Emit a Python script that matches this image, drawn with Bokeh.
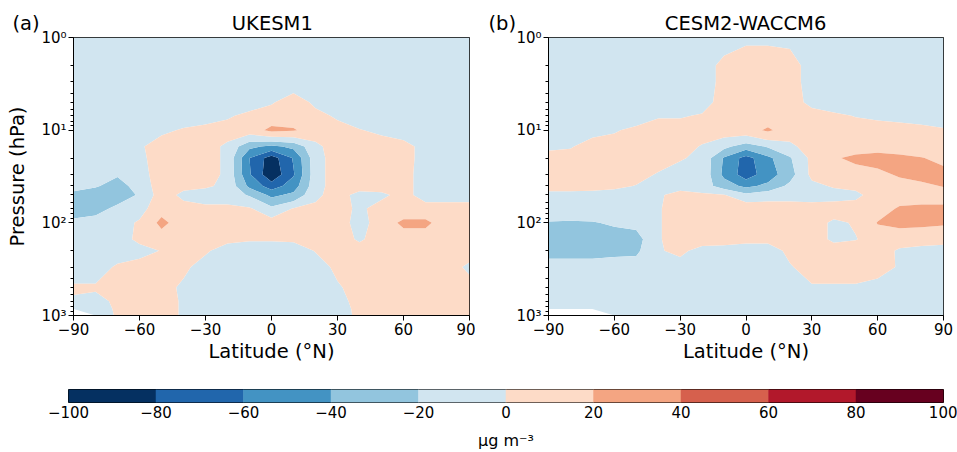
import numpy as np
from bokeh.plotting import figure
from bokeh.models import Range1d, FixedTicker, Title
from bokeh.layouts import column, row
from bokeh.embed import file_html
from bokeh.resources import INLINE

nan = float("nan")

# latitude grid (deg N) and pressure levels (hPa)
lats = [-90, -80, -70, -60, -50, -40, -30, -20, -10, 0, 10, 20, 30, 40, 50, 60, 70, 80, 90]
pressures = [1, 2, 3, 5, 7, 10, 15, 20, 30, 40, 50, 70, 100, 150, 200, 300, 500, 700, 850, 1000]

levels = [-100, -80, -60, -40, -20, 0, 20, 40, 60, 80, 100]
colors = ["#053061", "#2166ac", "#4393c3", "#92c5de", "#d1e5f0",
          "#fddbc7", "#f4a582", "#d6604d", "#b2182b", "#67001f"]

lat_ticks = [-90, -60, -30, 0, 30, 60, 90]
p_ticks = [1, 10, 100, 1000]
p_tick_labels = ["10⁰", "10¹", "10²", "10³"]

# UKESM1 difference field (ug m-3), rows = pressure levels, cols = latitudes
ukesm1 = [
    [-10, -10, -10, -10, -10, -10, -10, -10, -10, -10, -10, -10, -10, -10, -10, -10, -10, -10, -10],
    [-10, -10, -10, -10, -10, -10, -10, -10, -10, -10, -10, -10, -10, -10, -10, -10, -10, -10, -10],
    [-10, -10, -10, -10, -10, -10, -10, -10, -10, -10, -10, -10, -10, -10, -10, -10, -10, -10, -10],
    [-10, -10, -10, -10, -10, -10, -10, -10, -10, -2, 10, -4, -10, -10, -10, -10, -10, -10, -10],
    [-10, -10, -10, -10, -10, -10, -10, -3, 6, 10, 10, 6, -3, -10, -10, -10, -10, -10, -10],
    [-10, -10, -10, -10, -4, 2, 8, 10, 10, 25, 22, 10, 8, 1, -4, -8, -10, -10, -10],
    [-10, -10, -10, -3, 10, 10, 10, -5, -35, -45, -35, -5, 10, 10, 10, 6, -6, -10, -10],
    [-10, -10, -10, -5, 10, 10, 10, -5, -60, -90, -58, -8, 10, 10, 10, 8, -8, -10, -10],
    [-10, -10, -18, -8, 10, 10, 10, -5, -58, -95, -62, -8, 10, 10, 10, 8, -10, -10, -10],
    [-10, -18, -28, -12, 10, 5, 3, -5, -45, -70, -50, -8, 10, 10, 10, 8, -10, -10, -10],
    [-28, -30, -30, -18, 10, -5, -10, -10, -22, -45, -35, -5, 10, -8, -5, 8, -10, -10, -10],
    [-30, -28, -15, -8, 14, 8, 5, 5, 2, -15, 1, 5, 10, -5, 10, 10, 10, 10, 10],
    [-15, -10, -10, 3, 25, 10, 10, 10, 10, 10, 10, 10, 10, -8, 10, 24, 24, 10, 10],
    [-10, -10, -10, 5, 10, 10, 10, 5, 2, 2, 3, 10, 10, -3, 10, 10, 10, 10, 10],
    [-10, -10, -10, -8, 1, 10, 3, -10, -10, -10, -10, 1, 10, 10, 10, 10, 10, 10, 10],
    [-10, -10, 3, 10, 10, 5, -10, -10, -10, -10, -10, -10, 5, 10, 10, 10, 10, 10, -5],
    [3, 3, 10, 10, 10, -5, -10, -10, -10, -10, -10, -10, -3, 10, 10, 10, 10, 10, 10],
    [-3, -8, 5, 10, 10, -3, -10, -10, -10, -10, -10, -10, -10, 10, 10, 10, 10, 10, 10],
    [-10, -10, 3, 10, 10, -3, -10, -10, -10, -10, -10, -10, -10, 6, 10, 10, 10, 10, 10],
    [nan, -10, 2, 10, 10, -3, -10, -10, -10, -10, -10, -10, -10, 5, 10, 10, 10, 10, 10],
]

# CESM2-WACCM6 difference field (ug m-3)
cesm2_waccm6 = [
    [-10, -10, -10, -10, -10, -10, -10, -10, -8, -3, -3, -5, -10, -10, -10, -10, -10, -10, -10],
    [-10, -10, -10, -10, -10, -10, -10, -10, 6, 10, 10, 10, -10, -10, -10, -10, -10, -10, -10],
    [-10, -10, -10, -10, -10, -10, -10, -10, 6, 10, 10, 10, -10, -10, -10, -10, -10, -10, -10],
    [-10, -10, -10, -10, -10, -10, -10, -8, 8, 10, 10, 10, -6, -10, -10, -10, -10, -10, -10],
    [-10, -10, -10, -10, -10, -2, -2, 2, 10, 10, 10, 10, 10, 4, -1, -4, -6, -8, -9],
    [-10, -10, -7, -2, 5, 10, 10, 10, 10, 12, 23, 10, 10, 10, 10, 10, 8, 6, 2],
    [-5, -2, 10, 10, 10, 10, 10, -2, -15, -30, -18, -5, 10, 12, 12, 14, 12, 10, 8],
    [10, 10, 10, 10, 10, 10, 2, -5, -42, -68, -45, -22, 5, 18, 24, 26, 24, 21, 14],
    [10, 10, 10, 10, 8, -2, -10, -5, -45, -70, -50, -28, 5, 10, 12, 16, 22, 26, 28],
    [10, 10, 8, 5, -1, -10, -5, -10, -30, -45, -35, -15, -5, 2, 5, 10, 14, 16, 21],
    [-8, -8, -8, -10, -5, -2, 5, 3, 1, -15, -8, -8, -10, -8, -5, 10, 12, 12, 12],
    [-12, -15, -12, -10, -10, -2, 10, 10, 10, 15, 10, 10, 10, 10, 10, 12, 22, 24, 24],
    [-21, -21, -21, -18, -15, -2, 10, 10, 10, 10, 10, 10, 10, -4, 2, 21, 24, 23, 22],
    [-28, -28, -28, -28, -28, -2, 10, 10, 10, 5, 5, 10, 10, -4, -1, 10, 10, 10, 8],
    [-28, -28, -28, -25, -24, -2, 5, -8, -10, -10, -10, 5, 10, 10, 10, 10, -3, -8, -10],
    [-10, -10, -10, -10, -10, -10, -10, -10, -10, -10, -10, -2, 10, 10, 10, 8, -2, -10, -10],
    [-10, -10, -10, -10, -10, -10, -10, -10, -10, -10, -10, -10, -3, -3, -3, -8, -10, -10, -10],
    [-10, -10, -10, -10, -10, -10, -10, -10, -10, -10, -10, -10, -10, -10, -10, -10, -10, -10, -10],
    [-10, -10, -10, -10, -10, -10, -10, -10, -10, -10, -10, -10, -10, -10, -10, -10, -10, -10, -10],
    [nan, nan, nan, -10, -10, -10, -10, -10, -10, -10, -10, -10, -10, -10, -10, -10, -10, -10, -10],
]

FONT = "DejaVu Sans"
NBSP = "\u00a0"


def minus(v):
    return str(v).replace("-", "\u2212")


def panel(z, title, letter, gap, offset, width, right, ylabel):
    p = figure(width=width, height=373, x_range=Range1d(-90, 90), y_range=Range1d(1000, 1),
               y_axis_type="log", output_backend="svg", toolbar_location=None,
               min_border_left=73, min_border_right=right, min_border_top=37,
               min_border_bottom=58, background_fill_color="white", border_fill_color="white")
    r = p.contour(x=lats, y=pressures, z=np.array(z, dtype=float), levels=levels,
                  fill_color=colors, line_color=None)
    g = r.fill_renderer.glyph
    g.line_color = g.fill_color
    g.line_width = 0.6

    p.title = Title(text=letter + NBSP * gap + title, align="left", offset=offset,
                    vertical_align="bottom", standoff=5, text_font=FONT,
                    text_font_size="19.5px", text_font_style="normal", text_color="black")

    p.xgrid.visible = False
    p.ygrid.visible = False
    p.outline_line_color = "black"
    p.outline_line_width = 1
    p.outline_line_alpha = 1

    for ax in (p.xaxis[0], p.yaxis[0]):
        ax.major_tick_out = 5
        ax.major_tick_in = 0
        ax.minor_tick_out = 3
        ax.minor_tick_in = 0
        ax.axis_line_color = "black"
        ax.major_tick_line_color = "black"
        ax.minor_tick_line_color = "black"
        ax.major_label_text_font = FONT
        ax.major_label_text_font_size = "15px"
        ax.major_label_text_color = "black"
        ax.major_label_standoff = 2
        ax.axis_label_text_font = FONT
        ax.axis_label_text_font_size = "19.5px"
        ax.axis_label_text_font_style = "normal"
        ax.axis_label_text_color = "black"

    p.xaxis.ticker = FixedTicker(ticks=lat_ticks)
    p.xaxis.major_label_overrides = {t: minus(t) for t in lat_ticks}
    p.xaxis.axis_label = "Latitude (°N)"
    p.xaxis.axis_label_standoff = 2

    minor = [m * 10 ** k for k in range(3) for m in range(2, 10)]
    p.yaxis.ticker = FixedTicker(ticks=p_ticks, minor_ticks=minor)
    p.yaxis.major_label_overrides = dict(zip(p_ticks, p_tick_labels))
    if ylabel:
        p.yaxis.axis_label = "Pressure (hPa)"
        p.yaxis.axis_label_standoff = 9
    return p


pa = panel(ukesm1, "UKESM1", "(a)", 31, -61, 475, 6, True)
pb = panel(cesm2_waccm6, "CESM2-WACCM6", "(b)", 24, -60, 482, 14, False)

cb = figure(width=957, height=79, x_range=Range1d(-100, 100), y_range=Range1d(0, 1),
            output_backend="svg", toolbar_location=None, min_border_left=68,
            min_border_right=14, min_border_top=16, min_border_bottom=43,
            background_fill_color="white", border_fill_color="white")
cb.quad(left=levels[:-1], right=levels[1:], bottom=0, top=1, fill_color=colors, line_color=colors,
        line_width=0.5)
cb.xgrid.visible = False
cb.ygrid.visible = False
cb.yaxis.visible = False
cb.outline_line_color = "black"
cb.outline_line_width = 1
cb.outline_line_alpha = 1
cb.xaxis.ticker = FixedTicker(ticks=levels)
cb.xaxis.major_label_overrides = {t: minus(t) for t in levels}
cb.xaxis.major_tick_out = 0
cb.xaxis.major_tick_in = 0
cb.xaxis.minor_tick_out = 0
cb.xaxis.axis_line_color = None
cb.xaxis.major_label_standoff = 3
cb.xaxis.major_label_text_font = FONT
cb.xaxis.major_label_text_font_size = "15px"
cb.xaxis.major_label_text_color = "black"
cb.xaxis.axis_label = "μg m⁻³"
cb.xaxis.axis_label_standoff = 10
cb.xaxis.axis_label_text_font = FONT
cb.xaxis.axis_label_text_font_size = "16px"
cb.xaxis.axis_label_text_font_style = "normal"
cb.xaxis.axis_label_text_color = "black"

layout = column(row(pa, pb), cb)
open("out.html", "w").write(file_html(layout, INLINE))
